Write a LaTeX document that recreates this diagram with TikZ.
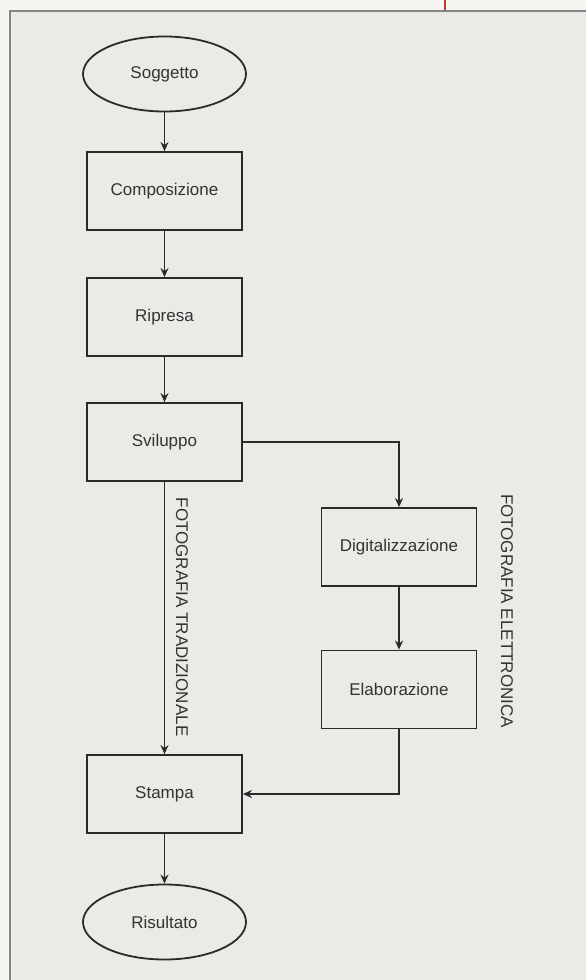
\documentclass[tikz,border=0pt]{standalone}
\usepackage{fontspec}
\setmainfont{Liberation Sans}
\usetikzlibrary{shapes.geometric,arrows.meta}
\definecolor{pagebg}{HTML}{F6F5F2}
\definecolor{framebg}{HTML}{ECEAE6}
\definecolor{framecol}{HTML}{858585}
\definecolor{inkcol}{HTML}{2A2A2A}
\definecolor{txtcol}{HTML}{333333}
\definecolor{redtick}{HTML}{C0392B}
\begin{document}
\begin{tikzpicture}[x=1pt,y=-1pt,
  stepbox/.style={draw=inkcol,line width=1.8pt,rectangle,minimum width=155pt,minimum height=78pt,inner sep=0pt,text=txtcol,font=\fontsize{17}{17}\selectfont},
  termbox/.style={draw=inkcol,line width=1.8pt,ellipse,minimum width=163pt,minimum height=75pt,inner sep=0pt,text=txtcol,font=\fontsize{17}{17}\selectfont},
  sidelabel/.style={rotate=-90,text=txtcol,font=\fontsize{17}{17}\selectfont,inner sep=0pt},
  flow/.style={draw=inkcol,line width=1.6pt,-{Stealth[length=9pt,width=8pt]}}]
\useasboundingbox (0,0) rectangle (586,980);
\fill[pagebg] (0,0) rectangle (586,980);
\fill[framebg] (10,11) rectangle (590,990);
\draw[framecol,line width=2.8pt] (10,990) -- (10,11) -- (590,11);
\draw[redtick,line width=2pt] (445,0) -- (445,10);

\node[termbox] (sog) at (164.5,74) {Soggetto};
\node[stepbox] (comp) at (164.5,191) {Composizione};
\node[stepbox] (rip) at (164.5,317) {Ripresa};
\node[stepbox] (svil) at (164.5,442) {Sviluppo};
\node[stepbox] (dig) at (399,547) {Digitalizzazione};
\node[stepbox] (elab) at (399,689.5) {Elaborazione};
\node[stepbox] (stam) at (164.5,794) {Stampa};
\node[termbox] (ris) at (164.5,922) {Risultato};

\node[sidelabel] (trad) at (182,617) {FOTOGRAFIA TRADIZIONALE};
\node[sidelabel] (elet) at (507,611) {FOTOGRAFIA ELETTRONICA};

\draw[flow] (sog) -- (comp);
\draw[flow] (comp) -- (rip);
\draw[flow] (rip) -- (svil);
\draw[flow] (svil) -- (stam);
\draw[flow] (stam) -- (ris);
\draw[flow] (svil.east) -| (dig.north);
\draw[flow] (dig) -- (elab);
\draw[flow] (elab.south) |- (stam.east);
\end{tikzpicture}
\end{document}
